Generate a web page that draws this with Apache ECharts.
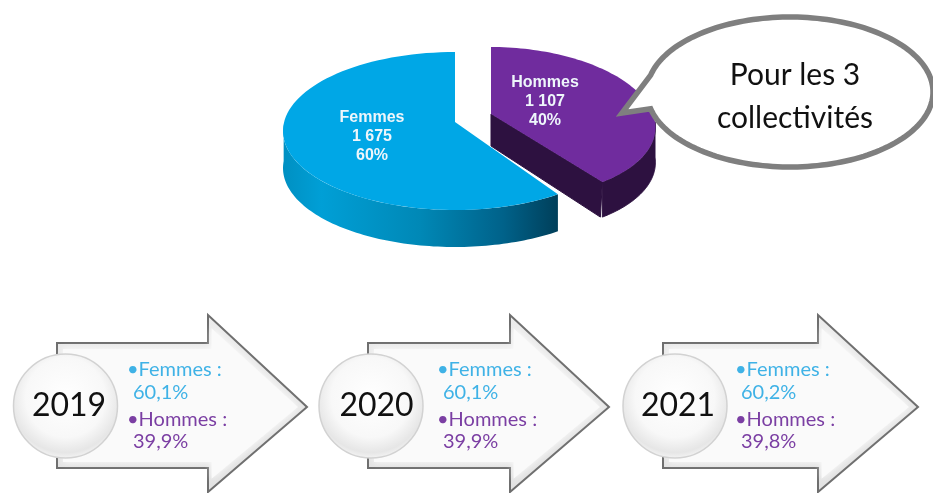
<!DOCTYPE html>
<html>
<head>
<meta charset="utf-8">
<title>Répartition femmes / hommes</title>
<style>
html, body { margin: 0; padding: 0; background: #fff; }
#main { width: 933px; height: 493px; }
</style>
<script src="https://cdn.jsdelivr.net/npm/echarts@6/dist/echarts.min.js"></script>
</head>
<body>
<div id="main"></div>
<script>
// donnees
var genres = ['Femmes', 'Hommes'];
var effectifs = [1675, 1107];
var pourcents = ['60%', '40%'];
var annees = ['2019', '2020', '2021'];
var femmesAnnee = ['60,1%', '60,1%', '60,2%'];
var hommesAnnee = ['39,9%', '39,9%', '39,8%'];

// mise en page du camembert (faux 3D), une entree par part
var sliceGeo = [
    { ax: 455, ay: 122, cx: 455, cy: 131, rx: 172, ry: 79, k: 0, h: 37, lx: 372, ly: 137 },
    { ax: 491, ay: 114, cx: 491, cy: 122, rx: 153, ry: 75, k: 11, h: 35, lx: 545, ly: 102 }
];
// mise en page des fleches : cercle, corps, pointe, texte
var arrowGeo = [
    { c: 65.5, body: 57, head: 208, tip: 307, tx: 127, yx: 69 },
    { c: 371, body: 368, head: 510, tip: 609, tx: 437, yx: 376.5 },
    { c: 675, body: 663, head: 818, tip: 918, tx: 735, yx: 678 }
];

var total = effectifs[0] + effectifs[1];
var hommesDeg = effectifs[1] / total * 360;

function fmtEffectif(v) {
    return String(v).replace(/\B(?=(\d{3})+$)/g, ' ');
}

function rimPoint(g, deg) {
    var t = deg * Math.PI / 180;
    return [
        g.cx + g.rx * Math.sin(t) + g.k * (1 - Math.cos(t)),
        g.cy - g.ry * Math.cos(t)
    ];
}

function rim(g, from, to, dy) {
    var pts = [];
    var n = 90;
    for (var i = 0; i <= n; i++) {
        var p = rimPoint(g, from + (to - from) * i / n);
        pts.push([p[0], p[1] + (dy || 0)]);
    }
    return pts;
}

function wall(g, from, to, fill, stroke, z2) {
    return {
        type: 'polygon',
        z2: z2,
        shape: { points: rim(g, from, to, 0).concat(rim(g, from, to, g.h).reverse()) },
        style: { fill: fill, stroke: stroke, lineWidth: stroke ? 1 : 0 }
    };
}

// une part : angles calcules depuis les effectifs
function renderSlice(params, api) {
    var idx = params.dataIndex;
    var g = sliceGeo[idx];
    var value = api.value(0);
    var kids = [];
    if (idx === 1) {
        var end = value / total * 360;
        // face coupee + paroi exterieure
        var e = rimPoint(g, end);
        kids.push({
            type: 'polygon', z2: 1,
            shape: { points: [[g.ax, g.ay], e, [e[0] - 2, e[1] + g.h], [g.ax, g.ay + g.h - 3]] },
            style: { fill: '#2d1140', stroke: '#2d1140', lineWidth: 1 }
        });
        kids.push(wall(g, 90, end, '#2d1140', '#2d1140', 1));
        kids.push({
            type: 'polygon', z2: 2,
            shape: { points: [[g.ax, g.ay]].concat(rim(g, 0, end)) },
            style: { fill: '#702c9e' }
        });
    } else {
        var start = hommesDeg;
        kids.push(wall(g, start, 275, new echarts.graphic.LinearGradient(0, 0, 1, 0, [
            { offset: 0, color: '#0090c2' },
            { offset: 0.14, color: '#009fd6' },
            { offset: 0.5, color: '#0088b6' },
            { offset: 0.8, color: '#00628a' },
            { offset: 1, color: '#003f5a' }
        ]), null, 3));
        kids.push({
            type: 'polygon', z2: 4,
            shape: { points: [[g.ax, g.ay]].concat(rim(g, start, 360)) },
            style: { fill: '#00a7e6' }
        });
    }
    kids.push({
        type: 'text', z2: 5,
        style: {
            x: g.lx, y: g.ly,
            text: genres[idx] + '\n' + fmtEffectif(value) + '\n' + pourcents[idx],
            fill: '#eef6fb',
            font: 'bold 16px "Liberation Sans"',
            lineHeight: 19,
            align: 'center',
            verticalAlign: 'middle'
        }
    });
    return { type: 'group', children: kids };
}

function arrowPoints(a, inset) {
    var i = inset;
    return [
        [a.body + i, 343 + i],
        [a.head + i * 0.6, 343 + i],
        [a.head + i * 0.6, 315 + i * 2.2],
        [a.tip - i * 1.5, 407],
        [a.head + i * 0.6, 492 - i * 2.2],
        [a.head + i * 0.6, 468 - i],
        [a.body + i, 468 - i]
    ];
}

function bullePoints() {
    // bulle : ellipse avec sa pointe vers le camembert
    var pts = [];
    var cx = 790, cy = 92, rx = 143, ry = 75;
    for (var d = 193; d <= 193 + 334; d += 2) {
        var t = d * Math.PI / 180;
        pts.push([cx + rx * Math.cos(t), cy + ry * Math.sin(t)]);
    }
    pts.push([622, 113]);
    return pts;
}

var graphics = [];

graphics.push({
    type: 'polygon', z: 10,
    shape: { points: bullePoints() },
    style: { fill: '#fff', stroke: '#7f7f7f', lineWidth: 5.5, lineJoin: 'miter' }
});
graphics.push({
    type: 'text', z: 11,
    style: {
        x: 795, y: 97,
        text: 'Pour les 3\ncollectivités',
        fill: '#111',
        font: '30px Lato',
        lineHeight: 43,
        align: 'center',
        verticalAlign: 'middle'
    }
});

annees.forEach(function (an, i) {
    var a = arrowGeo[i];
    graphics.push({
        type: 'polygon', z: 1,
        shape: { points: arrowPoints(a, 0) },
        style: {
            fill: new echarts.graphic.LinearGradient(0, 0, 0, 1, [
                { offset: 0, color: '#ececec' },
                { offset: 1, color: '#e2e2e2' }
            ]),
            stroke: '#6e6e6e', lineWidth: 2
        }
    });
    graphics.push({
        type: 'polygon', z: 2,
        shape: { points: arrowPoints(a, 6) },
        style: { fill: '#fafafa', shadowBlur: 6, shadowColor: 'rgba(255,255,255,0.9)' }
    });
    graphics.push({
        type: 'circle', z: 3,
        shape: { cx: a.c, cy: 406, r: 52 },
        style: {
            fill: new echarts.graphic.RadialGradient(0.5, 0.42, 0.58, [
                { offset: 0, color: '#ffffff' },
                { offset: 0.65, color: '#f8f8f8' },
                { offset: 0.9, color: '#e6e6e6' },
                { offset: 1, color: '#f4f4f4' }
            ]),
            stroke: '#d2d2d2', lineWidth: 1.5
        }
    });
    graphics.push({
        type: 'text', z: 4,
        style: {
            x: a.yx, y: 406, text: an, fill: '#111',
            font: '32px Lato', align: 'center', verticalAlign: 'middle'
        }
    });
    [
        ['•' + genres[0] + ' :', a.tx, 370, '#3fb2e6'],
        [femmesAnnee[i], a.tx + 6, 393, '#3fb2e6'],
        ['•' + genres[1] + ' :', a.tx, 420, '#7b3fa3'],
        [hommesAnnee[i], a.tx + 6, 442, '#7b3fa3']
    ].forEach(function (l) {
        graphics.push({
            type: 'text', z: 4,
            style: {
                x: l[1], y: l[2], text: l[0], fill: l[3],
                font: '20px Lato', align: 'left', verticalAlign: 'middle'
            }
        });
    });
});

var chart = echarts.init(document.getElementById('main'));
chart.setOption({
    animation: false,
    backgroundColor: '#ffffff',
    graphic: { elements: graphics },
    series: [{
        type: 'custom',
        coordinateSystem: 'none',
        renderItem: renderSlice,
        data: effectifs.map(function (v, i) { return { name: genres[i], value: [v] }; })
    }]
});
</script>
</body>
</html>
